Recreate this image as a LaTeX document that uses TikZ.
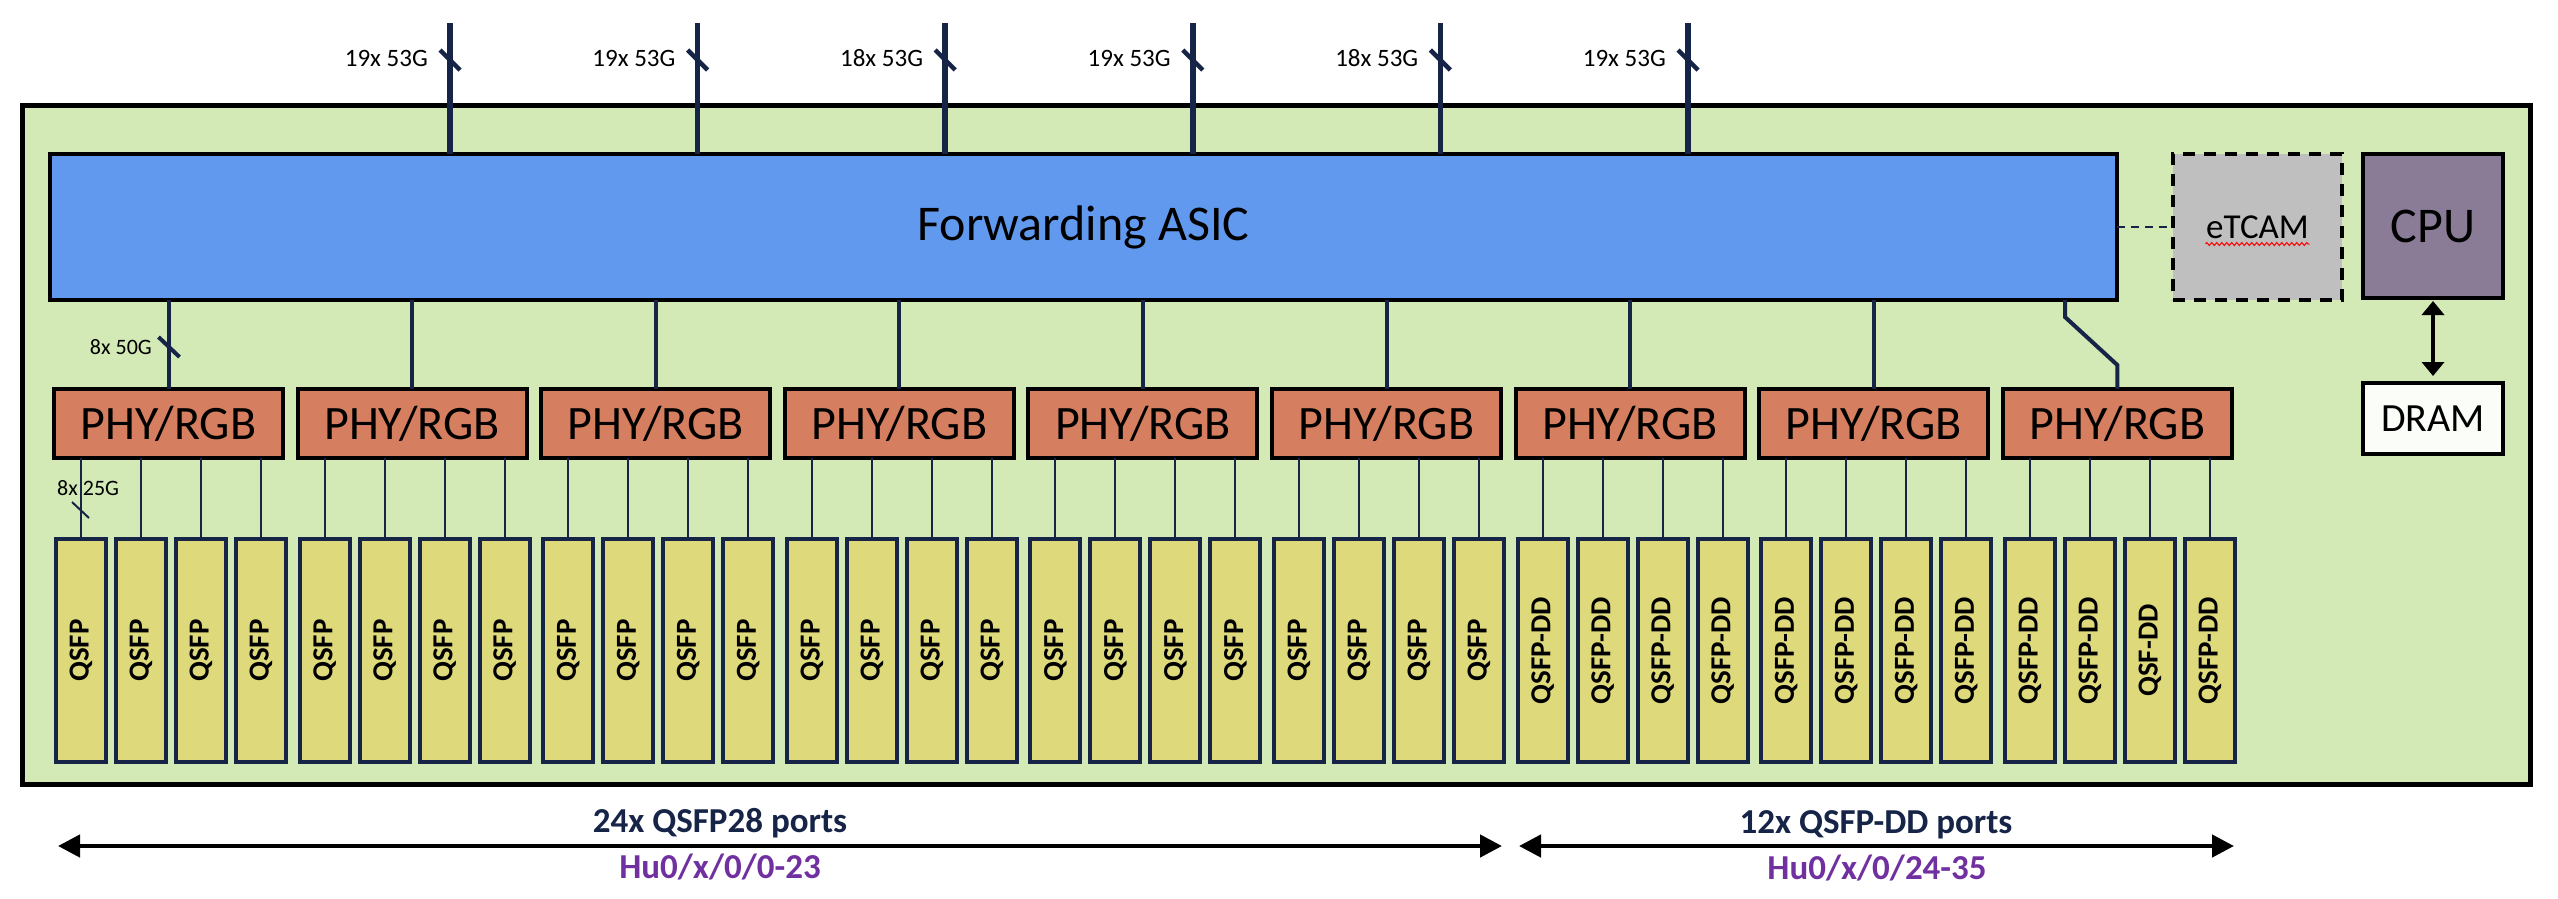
\documentclass[tikz,border=0pt]{standalone}
\usepackage{fontspec}
\setmainfont{Carlito}
\usetikzlibrary{arrows.meta,decorations.pathmorphing}
\definecolor{bggreen}{RGB}{211,233,182}
\definecolor{asicblue}{RGB}{97,153,238}
\definecolor{tcamgrey}{RGB}{191,191,191}
\definecolor{cpupurple}{RGB}{138,124,150}
\definecolor{phyred}{RGB}{213,127,96}
\definecolor{qsfpyellow}{RGB}{222,217,123}
\definecolor{navy}{RGB}{22,36,71}
\definecolor{hupurple}{RGB}{112,48,160}
\definecolor{dramwhite}{RGB}{251,253,248}
\newcommand\fsz[1]{\fontsize{#1}{#1}\selectfont}
\begin{document}
\begin{tikzpicture}[x=1pt,y=-1pt,
  box/.style={draw, rectangle, inner sep=0pt, outer sep=0pt},
  board/.style={box, line width=5pt, fill=bggreen, minimum width=2508pt, minimum height=679pt},
  asicbox/.style={box, line width=3.5pt, fill=asicblue, minimum width=2067pt, minimum height=146pt, font=\fsz{50}},
  tcambox/.style={box, line width=4pt, dash pattern=on 12pt off 9pt, fill=tcamgrey, minimum width=169pt, minimum height=146pt, font=\fsz{35}},
  cpubox/.style={box, line width=4pt, fill=cpupurple, minimum width=140pt, minimum height=144pt, font=\fsz{50}},
  drambox/.style={box, line width=4pt, fill=dramwhite, minimum width=140pt, minimum height=71pt, font=\fsz{40}},
  phybox/.style={box, line width=4pt, fill=phyred, minimum width=229pt, minimum height=69pt, font=\fsz{48}},
  qsfpbox/.style={box, draw=navy, line width=4pt, fill=qsfpyellow, minimum width=50pt, minimum height=223pt, font=\bfseries\fsz{29}},
  toplink/.style={draw=navy, line width=5.5pt},
  topslash/.style={draw=navy, line width=4.5pt},
  midlink/.style={draw=navy, line width=4pt},
  thinlink/.style={draw=navy, line width=2pt},
  speedlbl/.style={inner sep=0pt, anchor=east, font=\fsz{25}},
  smalllbl/.style={inner sep=0pt, font=\fsz{22}},
  dimarrow/.style={draw=black, line width=4.5pt, {Triangle[length=22pt,width=22pt]}-{Triangle[length=22pt,width=22pt]}},
  memarrow/.style={draw=black, line width=4pt, {Triangle[length=14pt,width=22pt]}-{Triangle[length=14pt,width=22pt]}},
  portlbl/.style={inner sep=0pt, font=\bfseries\fsz{35}, text=navy},
  hulbl/.style={inner sep=0pt, font=\bfseries\fsz{35}, text=hupurple}
]
\useasboundingbox (0,0) rectangle (2558,898);
\fill[white] (0,0) rectangle (2558,898);

% board
\node[board] (board) at (1276,444.5) {};

% main blocks
\node[asicbox] (asic) at (1083.5,227) {Forwarding ASIC};
\node[tcambox] (tcam) at (2257.5,227) {eTCAM};
\node[cpubox] (cpu) at (2433,226) {CPU};
\node[drambox] (dram) at (2433,418.5) {DRAM};

% spell-check squiggle under eTCAM
\draw[red, line width=1pt, decorate, decoration={zigzag, segment length=5pt, amplitude=1.5pt}]
  ([xshift=-52pt,yshift=-17pt]tcam.center) -- ([xshift=52pt,yshift=-17pt]tcam.center);

\draw[thinlink, dash pattern=on 8pt off 6pt] (asic.east) -- (tcam.west);
\draw[memarrow, shorten <=3pt, shorten >=7pt] (cpu.south) -- (dram.north);

% uplinks
\foreach \i/\t in {0/19x 53G,1/19x 53G,2/18x 53G,3/19x 53G,4/18x 53G,5/19x 53G}{
  \pgfmathsetmacro\tx{450+247.6*\i}
  \coordinate (t\i) at (\tx,23);
  \draw[toplink] (t\i) -- (t\i |- asic.north);
  \draw[topslash] ([shift={(-10,27)}]t\i) -- ([shift={(10,47)}]t\i);
  \node[speedlbl] (lt\i) at (\tx-22,58) {\t};
}

% PHYs and QSFPs
\foreach \i in {0,...,8}{
  \pgfmathsetmacro\pl{54+243.6*\i}
  \node[phybox] (p\i) at (\pl+114.5,423.5) {PHY/RGB};
  \foreach \j in {0,...,3}{
    \pgfmathtruncatemacro\k{4*\i+\j}
    \pgfmathsetmacro\qx{\pl+27+60*\j}
    \ifnum\k<24 \def\qt{QSFP}\else\ifnum\k=34 \def\qt{QSF-DD}\else\def\qt{QSFP-DD}\fi\fi
    \node[qsfpbox] (q\k) at (\qx,650.5) {\rotatebox{90}{\qt}};
    \draw[thinlink] (q\k.north |- p\i.south) -- (q\k.north);
  }
}

% ASIC to PHY links
\foreach \i in {0,...,7}{
  \draw[midlink] (p\i.north |- asic.south) -- (p\i.north);
}
\coordinate (d1) at (2065,317);
\draw[midlink] (d1 |- asic.south) -- (d1) -- ([yshift=24pt]p8.north) -- (p8.north);

% speed annotations
\coordinate (s50) at (p0.north |- 0,347);
\draw[midlink] ([shift={(-10,-10)}]s50) -- ([shift={(11,10)}]s50);
\node[smalllbl, anchor=east] (l50) at (152,347) {8x 50G};
\coordinate (s25) at (q0.north |- 0,510);
\draw[thinlink] ([shift={(-9,-8)}]s25) -- ([shift={(8,8)}]s25);
\node[smalllbl, anchor=west] (l25) at (57,488) {8x 25G};

% bottom dimension arrows
\coordinate (a1l) at (58,846);
\coordinate (a1r) at (1502,846);
\coordinate (a2l) at (1519,846);
\coordinate (a2r) at (2234,846);
\draw[dimarrow] (a1l) -- (a1r);
\draw[dimarrow] (a2l) -- (a2r);
\node[portlbl] (pl1) at (720,823) {24x QSFP28 ports};
\node[hulbl] (hu1) at (720,867) {Hu0/x/0/0-23};
\node[portlbl] (pl2) at (1876,825) {12x QSFP-DD ports};
\node[hulbl] (hu2) at (1877,868) {Hu0/x/0/24-35};
\end{tikzpicture}
\end{document}
